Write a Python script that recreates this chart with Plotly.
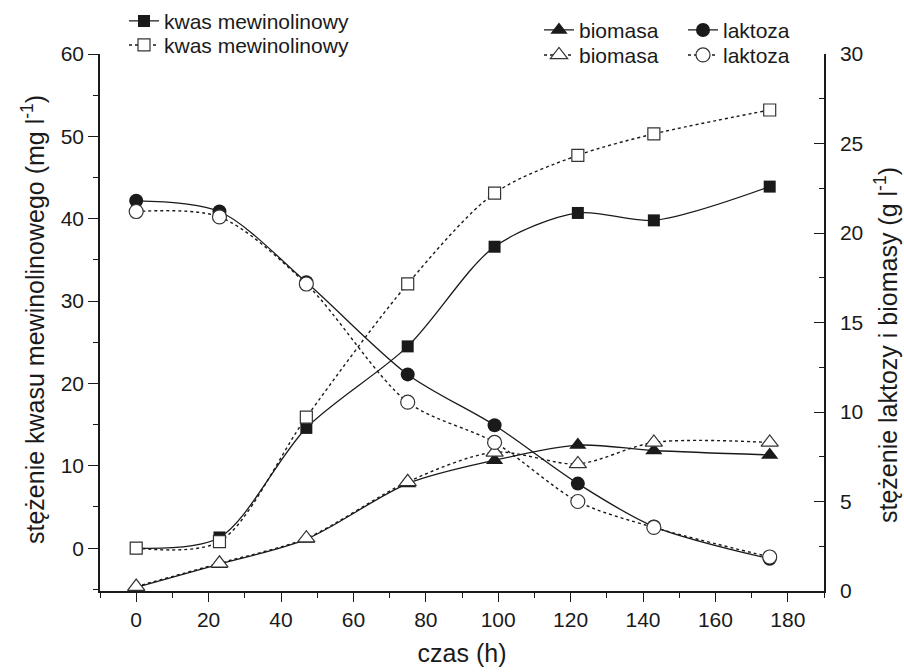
import plotly.graph_objects as go

# time (h)
czas = [0, 23, 47, 75, 99, 122, 143, 175]

# kwas mewinolinowy (mg/l) – left axis
mew_a = [0.0, 1.3, 14.6, 24.5, 36.6, 40.7, 39.8, 43.9]
mew_b = [0.0, 0.8, 15.9, 32.1, 43.1, 47.7, 50.3, 53.2]

# biomasa (g/l) – right axis
bio_a = [0.2, 1.5, 2.9, 6.0, 7.3, 8.15, 7.85, 7.6]
bio_b = [0.25, 1.55, 2.95, 6.1, 7.75, 7.1, 8.3, 8.3]

# laktoza (g/l) – right axis
lak_a = [21.8, 21.2, 17.25, 12.1, 9.26, 6.0, 3.6, 1.8]
lak_b = [21.2, 20.9, 17.15, 10.55, 8.3, 5.0, 3.55, 1.9]

FONT = "Liberation Sans, Arial, sans-serif"
INK = "#1a1a1a"

fig = go.Figure()

def add(y, name, symbol, filled, axis, legend, size):
    fig.add_trace(go.Scatter(
        x=czas, y=y, name=name, yaxis=axis, legend=legend, showlegend=True,
        mode="lines+markers",
        line=dict(color=INK, width=1.3 if filled else 1.4,
                  dash="solid" if filled else "dot", shape="spline", smoothing=0.85),
        marker=dict(symbol=symbol, size=size,
                    color=INK if filled else "white",
                    line=dict(color=INK if filled else "#333333", width=0 if filled else 1.2)),
    ))

# filled (solid) first, open (dotted) on top
add(mew_a, "kwas mewinolinowy", "square", True, "y", "legend", 12)
add(bio_a, "biomasa", "triangle-up", True, "y2", "legend3", 15)
add(lak_a, "laktoza", "circle", True, "y2", "legend3", 14)
add(mew_b, "kwas mewinolinowy", "square", False, "y", "legend2", 12)
add(bio_b, "biomasa", "triangle-up", False, "y2", "legend4", 15)
add(lak_b, "laktoza", "circle", False, "y2", "legend4", 14)

tickfont = dict(family=FONT, size=21, color=INK)
titlefont = dict(family=FONT, size=25, color=INK)
legfont = dict(family=FONT, size=21, color=INK)

PLOT_T, PLOT_H, PLOT_L, PLOT_W = 54, 537, 100, 724

def ly(center_px):
    top = center_px - 20.2
    return 1 + (PLOT_T - top) / PLOT_H

def lx(px):
    return (px - PLOT_L) / PLOT_W

def py(px):
    return (PLOT_T + PLOT_H - px) / PLOT_H

fig.update_layout(
    width=904, height=672, showlegend=True,
    margin=dict(l=100, r=80, t=54, b=81, autoexpand=False),
    paper_bgcolor="white", plot_bgcolor="white",
    font=dict(family=FONT, size=21, color=INK),
    xaxis=dict(
        range=[-10, 190], tickmode="linear", tick0=0, dtick=20,
        ticks="outside", ticklen=9, tickwidth=1.3, tickcolor=INK,
        minor=dict(ticks="outside", ticklen=5, tickwidth=1.3, tickcolor=INK, dtick=10, tick0=0),
        showline=True, linecolor=INK, linewidth=1.5, showgrid=False, zeroline=False,
        tickfont=tickfont,
        title=dict(text="czas (h)", font=titlefont, standoff=15),
    ),
    yaxis=dict(
        range=[-5.2, 60], tickmode="linear", tick0=0, dtick=10,
        ticks="outside", ticklen=10, tickwidth=1.3, tickcolor=INK,
        minor=dict(ticks="outside", ticklen=5, tickwidth=1.3, tickcolor=INK, dtick=5, tick0=0),
        showline=True, linecolor=INK, linewidth=1.5, showgrid=False, zeroline=False,
        tickfont=tickfont,
    ),
    yaxis2=dict(
        range=[0, 30], overlaying="y", side="right", tickmode="linear", tick0=0, dtick=5,
        ticks="inside", ticklen=10, tickwidth=1.3, tickcolor=INK,
        minor=dict(ticks="inside", ticklen=5, tickwidth=1.3, tickcolor=INK, dtick=2.5, tick0=0),
        showline=True, linecolor=INK, linewidth=1.5, showgrid=False, zeroline=False,
        tickfont=tickfont, ticklabelstandoff=10,
    ),
    annotations=[
        dict(text="stężenie kwasu mewinolinowego (mg l<sup>-1</sup>)", textangle=-90,
             xref="paper", yref="paper", x=lx(33), y=py(320), xanchor="center", yanchor="middle",
             showarrow=False, font=titlefont),
        dict(text="stężenie laktozy i biomasy (g l<sup>-1</sup>)", textangle=-90,
             xref="paper", yref="paper", x=lx(886), y=py(345), xanchor="center", yanchor="middle",
             showarrow=False, font=titlefont),
    ],
    legend=dict(x=lx(124), y=ly(21), xanchor="left", yanchor="top", orientation="h",
                bgcolor="rgba(0,0,0,0)", font=legfont, visible=True),
    legend2=dict(x=lx(124), y=ly(45), xanchor="left", yanchor="top", orientation="h",
                 bgcolor="rgba(0,0,0,0)", font=legfont),
    legend3=dict(x=lx(539), y=ly(30), xanchor="left", yanchor="top", orientation="h",
                 entrywidth=99, bgcolor="rgba(0,0,0,0)", font=legfont),
    legend4=dict(x=lx(539), y=ly(55), xanchor="left", yanchor="top", orientation="h",
                 entrywidth=99, bgcolor="rgba(0,0,0,0)", font=legfont),
)

fig.write_html("out.html")
